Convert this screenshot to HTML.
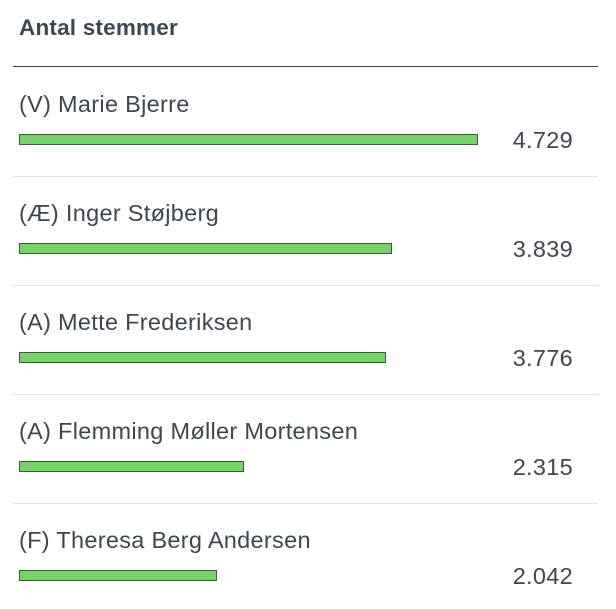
<!DOCTYPE html>
<html><head><meta charset="utf-8"><style>
body{margin:0;width:616px;height:609px;background:#fff;position:relative;overflow:hidden;font-family:"Liberation Sans",sans-serif;color:#3d4751}
.t{position:absolute;left:19px;top:15px;font-size:22.5px;line-height:26px;font-weight:bold;letter-spacing:0.2px}
.hl{position:absolute;left:13px;width:585px;top:66px;height:1px;background:#3d4751}
.sep{position:absolute;left:13px;width:585px;height:1px;background:#e4e4e4}
.n{position:absolute;left:19px;font-size:23.5px;line-height:26px;letter-spacing:0.3px}
.b{position:absolute;left:19px;height:9px;background:#78d26a;border:1px solid #3b5a36}
.v{position:absolute;right:43px;font-size:23.5px;line-height:26px;letter-spacing:0.3px}
</style></head><body>
<div class="t">Antal stemmer</div>
<div class="hl"></div>

<div class="n" style="top:91px">(V) Marie Bjerre</div>
<div class="b" style="top:134px;width:457px"></div>
<div class="v" style="top:127px">4.729</div>
<div class="sep" style="top:176px"></div>

<div class="n" style="top:200px">(Æ) Inger Støjberg</div>
<div class="b" style="top:243px;width:371px"></div>
<div class="v" style="top:236px">3.839</div>
<div class="sep" style="top:285px"></div>

<div class="n" style="top:309px">(A) Mette Frederiksen</div>
<div class="b" style="top:352px;width:365px"></div>
<div class="v" style="top:345px">3.776</div>
<div class="sep" style="top:394px"></div>

<div class="n" style="top:418px">(A) Flemming Møller Mortensen</div>
<div class="b" style="top:461px;width:223px"></div>
<div class="v" style="top:454px">2.315</div>
<div class="sep" style="top:503px"></div>

<div class="n" style="top:527px">(F) Theresa Berg Andersen</div>
<div class="b" style="top:570px;width:196px"></div>
<div class="v" style="top:563px">2.042</div>
</body></html>
